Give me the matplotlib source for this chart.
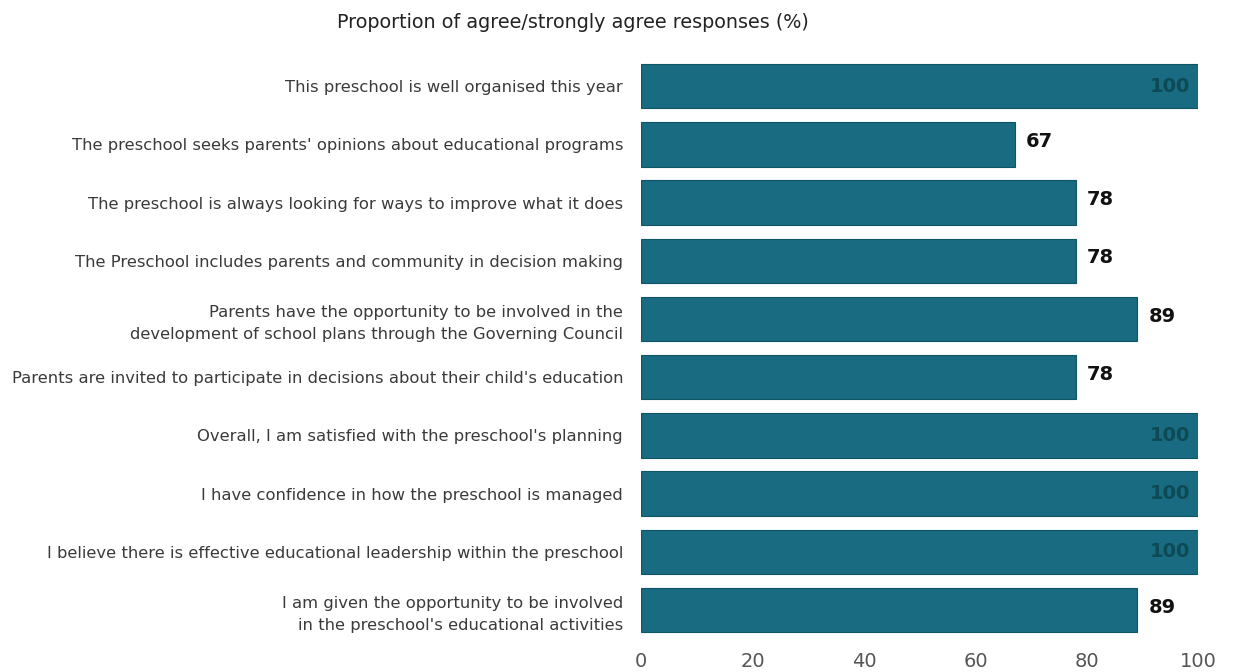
import matplotlib
matplotlib.use("Agg")
import matplotlib.pyplot as plt

categories = [
    "This preschool is well organised this year",
    "The preschool seeks parents' opinions about educational programs",
    "The preschool is always looking for ways to improve what it does",
    "The Preschool includes parents and community in decision making",
    "Parents have the opportunity to be involved in the\ndevelopment of school plans through the Governing Council",
    "Parents are invited to participate in decisions about their child's education",
    "Overall, I am satisfied with the preschool's planning",
    "I have confidence in how the preschool is managed",
    "I believe there is effective educational leadership within the preschool",
    "I am given the opportunity to be involved\nin the preschool's educational activities",
]
values = [100, 67, 78, 78, 89, 78, 100, 100, 100, 89]
xticks = [0, 20, 40, 60, 80, 100]

bar_color = "#196b82"

fig = plt.figure(figsize=(12.33, 6.72), dpi=100)
ax = fig.add_axes([0.520, 0.049, 0.452, 0.866])
y = list(range(len(categories)))
ax.barh(y, values, height=0.76, color=bar_color, edgecolor="#0f5566", linewidth=0.8)
ax.set_ylim(len(categories) - 0.5, -0.5)
ax.set_xlim(0, 100)
ax.set_yticks(y)
ax.set_yticklabels(categories, fontsize=11.8, color="#3a3a3a", linespacing=1.55)
ax.set_xticks(xticks)
ax.set_xticklabels([str(t) for t in xticks], fontsize=14, color="#555555")
ax.tick_params(axis="both", length=0)
ax.tick_params(axis="y", pad=13)
ax.tick_params(axis="x", pad=9)
for s in ax.spines.values():
    s.set_visible(False)

for yi, v in zip(y, values):
    if v >= 100:
        ax.text(v - 1.5, yi, str(v), ha="right", va="center", fontsize=14,
                color="#0d4a56", fontweight="bold")
    else:
        ax.text(v + 2, yi - 0.05, str(v), ha="left", va="center", fontsize=14,
                color="#111111", fontweight="bold")

fig.text(0.465, 0.967, "Proportion of agree/strongly agree responses (%)",
         ha="center", va="center", fontsize=13.8, color="#222222")

fig.savefig("out.png", dpi=100, facecolor="white")
